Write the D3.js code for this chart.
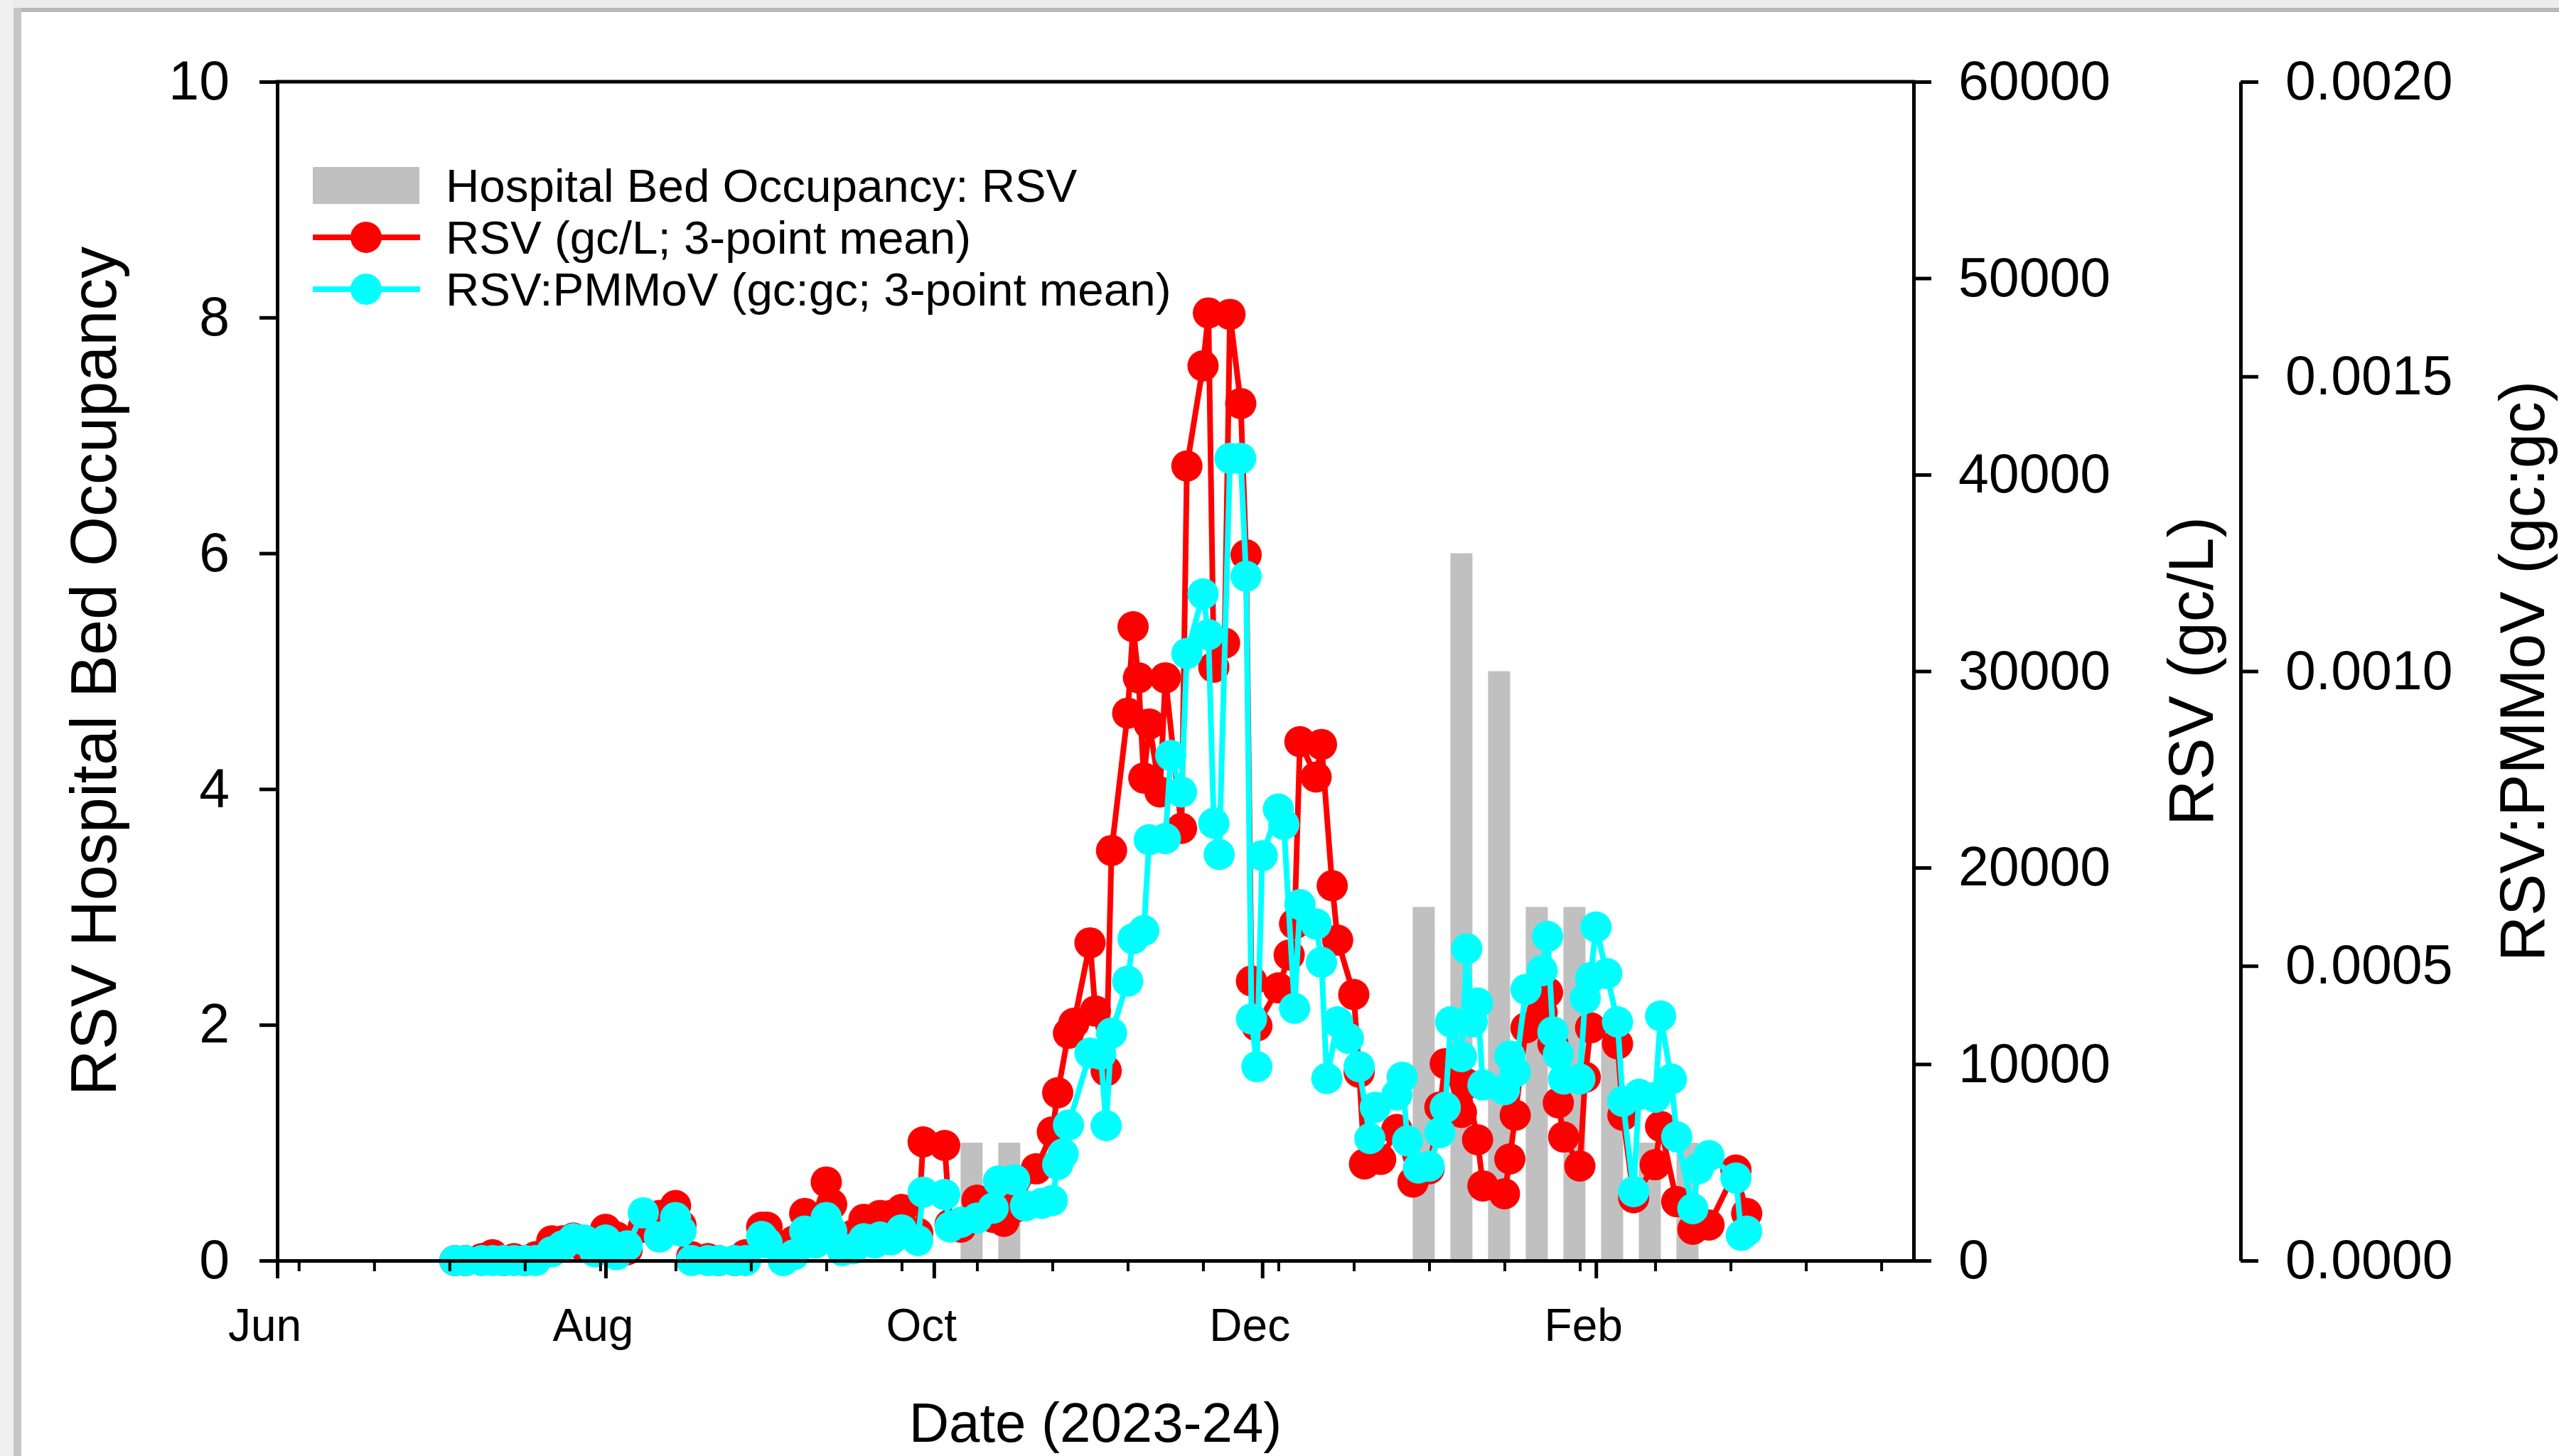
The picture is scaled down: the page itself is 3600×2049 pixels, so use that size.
<!DOCTYPE html>
<html>
<head>
<meta charset="utf-8">
<script src="https://cdn.jsdelivr.net/npm/d3@7"></script>
<style>
html, body { margin: 0; padding: 0; background: #fff; }
svg { display: block; }
</style>
</head>
<body>
<div class="container"></div>
<script>
const wd = 3600
const ht = 2049

// weekly RSV hospital bed occupancy
const bedDates = ["2023-10-01","2023-10-08","2023-10-15","2023-10-22","2023-10-29","2023-11-05","2023-11-12","2023-11-19","2023-11-26","2023-12-03","2023-12-10","2023-12-17","2023-12-24","2023-12-31","2024-01-07","2024-01-14","2024-01-21","2024-01-28","2024-02-04","2024-02-11","2024-02-18","2024-02-25"]
const bedValues = [0,1,1,0,0,0,0,0,0,0,0,0,0,3,6,5,3,3,2,1,1,0]

// RSV gc/L, 3-point mean
const rsvDates = ["2023-07-04","2023-07-06","2023-07-09","2023-07-11","2023-07-13","2023-07-15","2023-07-17","2023-07-19","2023-07-22","2023-07-24","2023-07-26","2023-07-28","2023-07-30","2023-08-01","2023-08-03","2023-08-05","2023-08-08","2023-08-11","2023-08-14","2023-08-15","2023-08-17","2023-08-20","2023-08-22","2023-08-25","2023-08-27","2023-08-30","2023-08-31","2023-09-03","2023-09-05","2023-09-07","2023-09-09","2023-09-11","2023-09-12","2023-09-14","2023-09-16","2023-09-18","2023-09-20","2023-09-21","2023-09-23","2023-09-25","2023-09-28","2023-09-29","2023-10-03","2023-10-04","2023-10-06","2023-10-09","2023-10-12","2023-10-14","2023-10-16","2023-10-20","2023-10-23","2023-10-24","2023-10-26","2023-10-27","2023-10-30","2023-10-31","2023-11-02","2023-11-03","2023-11-06","2023-11-07","2023-11-08","2023-11-09","2023-11-10","2023-11-12","2023-11-13","2023-11-16","2023-11-17","2023-11-20","2023-11-21","2023-11-22","2023-11-24","2023-11-25","2023-11-27","2023-11-28","2023-11-29","2023-11-30","2023-12-04","2023-12-06","2023-12-07","2023-12-08","2023-12-11","2023-12-12","2023-12-14","2023-12-15","2023-12-18","2023-12-19","2023-12-20","2023-12-23","2023-12-26","2023-12-29","2024-01-01","2024-01-03","2024-01-04","2024-01-07","2024-01-08","2024-01-10","2024-01-11","2024-01-15","2024-01-16","2024-01-17","2024-01-19","2024-01-22","2024-01-23","2024-01-24","2024-01-25","2024-01-26","2024-01-29","2024-01-30","2024-01-31","2024-02-05","2024-02-06","2024-02-08","2024-02-12","2024-02-13","2024-02-16","2024-02-19","2024-02-22","2024-02-27","2024-02-29"]
const rsvValues = [0,0,100,300,0,100,0,200,1000,1000,1150,700,900,1590,1200,550,1700,2300,2800,1800,200,100,0,0,300,1700,1700,300,1000,2400,1500,4000,2860,800,1300,2100,1800,2300,2300,2600,1400,6040,5860,1840,1700,3070,2200,2000,2700,4670,6550,8540,11570,12080,16170,12700,9660,20870,27860,32260,29660,24560,27310,23850,29660,22000,40440,45540,48230,30200,31430,48160,43620,35920,14230,11950,13880,15550,17140,26410,24610,26270,19080,16310,13540,9590,4920,5150,6670,4000,4670,7810,10020,7540,8990,6150,3800,3400,5170,7400,11850,12630,13650,11030,8030,6290,4810,9330,11850,11030,7400,3200,4880,6830,3000,1590,1810,4610,2400]

// RSV:PMMoV gc:gc, 3-point mean
const ratioDates = ["2023-07-04","2023-07-06","2023-07-09","2023-07-11","2023-07-13","2023-07-15","2023-07-17","2023-07-19","2023-07-22","2023-07-24","2023-07-26","2023-07-28","2023-07-30","2023-08-01","2023-08-03","2023-08-05","2023-08-08","2023-08-11","2023-08-14","2023-08-15","2023-08-17","2023-08-20","2023-08-22","2023-08-25","2023-08-27","2023-08-30","2023-08-31","2023-09-03","2023-09-05","2023-09-07","2023-09-09","2023-09-11","2023-09-12","2023-09-14","2023-09-16","2023-09-18","2023-09-20","2023-09-21","2023-09-23","2023-09-25","2023-09-28","2023-09-29","2023-10-03","2023-10-04","2023-10-06","2023-10-09","2023-10-12","2023-10-13","2023-10-16","2023-10-18","2023-10-21","2023-10-23","2023-10-24","2023-10-25","2023-10-26","2023-10-30","2023-11-01","2023-11-02","2023-11-03","2023-11-06","2023-11-07","2023-11-09","2023-11-10","2023-11-13","2023-11-14","2023-11-16","2023-11-17","2023-11-20","2023-11-21","2023-11-22","2023-11-23","2023-11-25","2023-11-27","2023-11-28","2023-11-29","2023-11-30","2023-12-01","2023-12-04","2023-12-05","2023-12-07","2023-12-08","2023-12-11","2023-12-12","2023-12-13","2023-12-15","2023-12-17","2023-12-19","2023-12-21","2023-12-22","2023-12-26","2023-12-27","2023-12-28","2023-12-30","2024-01-01","2024-01-03","2024-01-04","2024-01-05","2024-01-07","2024-01-08","2024-01-09","2024-01-10","2024-01-11","2024-01-15","2024-01-16","2024-01-17","2024-01-19","2024-01-22","2024-01-23","2024-01-24","2024-01-25","2024-01-26","2024-01-29","2024-01-30","2024-01-31","2024-02-01","2024-02-03","2024-02-05","2024-02-06","2024-02-08","2024-02-09","2024-02-12","2024-02-13","2024-02-15","2024-02-16","2024-02-19","2024-02-20","2024-02-22","2024-02-27","2024-02-28","2024-02-29"]
const ratioValues = [0,0,0,0,0,0,0,0,0.000015,0.000025,0.000037,0.000035,0.000015,0.000035,0.00001,0.000025,0.000081,0.00004,0.000073,0.00005,0,0,0,0,0,0.000041,0.00003,0,0.00001,0.00005,0.00003,0.000073,0.00005,0.000017,0.00002,0.000037,0.00003,0.00004,0.000035,0.000052,0.000034,0.000116,0.000112,0.000057,0.000065,0.000072,0.000089,0.000135,0.000137,0.000093,0.000097,0.000102,0.000163,0.000181,0.00023,0.000352,0.00035,0.000229,0.000386,0.000474,0.000546,0.00056,0.000714,0.000716,0.000857,0.000795,0.00103,0.001131,0.001062,0.000742,0.000689,0.001361,0.001361,0.001161,0.00041,0.000329,0.000687,0.000766,0.00074,0.000428,0.000604,0.000571,0.000506,0.000309,0.000405,0.000377,0.000329,0.000207,0.00026,0.000281,0.000311,0.000203,0.000157,0.00016,0.000217,0.00026,0.000405,0.000346,0.000529,0.000405,0.000437,0.000298,0.00029,0.000347,0.00032,0.00046,0.000492,0.00055,0.000388,0.00035,0.000308,0.000308,0.000445,0.00048,0.000566,0.000487,0.000405,0.00027,0.000117,0.000282,0.000277,0.000415,0.000308,0.00021,0.000088,0.000156,0.000178,0.00014,0.000043,0.00005]

// axis ticks and labels
const monthTicks = ["2023-06-01","2023-08-01","2023-10-01","2023-12-01","2024-02-01"]
const monthLabels = ["Jun","Aug","Oct","Dec","Feb"]
const bedTicks = [0,2,4,6,8,10]
const rsvTicks = [0,10000,20000,30000,40000,50000,60000]
const ratioTicks = [0,0.0005,0.001,0.0015,0.002]

const parse = d3.utcParse("%Y-%m-%d")
const fontFam = "'Liberation Sans', Arial, sans-serif"

const plotL = 390, plotR = 2692, plotT = 115, plotB = 1774
const ratioAxisX = 3152

const svg = d3.select(".container")
  .append("svg")
  .attr("width", wd)
  .attr("height", ht)
  .attr("viewBox", "0 0 " + wd + " " + ht)
  .style("font-family", fontFam)

// window frame edges
svg.append("rect").attr("x", 0).attr("y", 0).attr("width", wd).attr("height", 11).attr("fill", "#ececec")
svg.append("rect").attr("x", 0).attr("y", 11).attr("width", wd).attr("height", 6).attr("fill", "#b8b8b8")
svg.append("rect").attr("x", 0).attr("y", 0).attr("width", 19).attr("height", ht).attr("fill", "#f0f0f0")
svg.append("rect").attr("x", 19).attr("y", 11).attr("width", 11).attr("height", ht).attr("fill", "#c6c6c6")

const x = d3.scaleUtc()
  .domain([parse("2023-06-01"), parse("2024-03-31")])
  .range([plotL, plotR])

const yBed = d3.scaleLinear().domain([0, 10]).range([plotB, plotT])
const yRsv = d3.scaleLinear().domain([0, 60000]).range([plotB, plotT])
const yRatio = d3.scaleLinear().domain([0, 0.002]).range([plotB, plotT])

const bedData = bedDates.map((d, i) => ({date: parse(d), value: bedValues[i]}))
const rsvData = rsvDates.map((d, i) => ({date: parse(d), value: rsvValues[i]}))
const ratioData = ratioDates.map((d, i) => ({date: parse(d), value: ratioValues[i]}))

// bars
const halfBar = 2.05 * 86400000
svg.append("g").selectAll("rect")
  .data(bedData)
  .join("rect")
  .attr("x", d => x(new Date(+d.date - halfBar)))
  .attr("width", d => x(new Date(+d.date + halfBar)) - x(new Date(+d.date - halfBar)))
  .attr("y", d => yBed(d.value))
  .attr("height", d => plotB - yBed(d.value))
  .attr("fill", "#c0c0c0")

const lineRsv = d3.line().x(d => x(d.date)).y(d => yRsv(d.value))
const lineRatio = d3.line().x(d => x(d.date)).y(d => yRatio(d.value))

const rsvG = svg.append("g")
rsvG.append("path")
  .attr("d", lineRsv(rsvData))
  .attr("fill", "none")
  .attr("stroke", "#ff0000")
  .attr("stroke-width", 8)
  .attr("stroke-linejoin", "round")
rsvG.selectAll("circle")
  .data(rsvData)
  .join("circle")
  .attr("cx", d => x(d.date))
  .attr("cy", d => yRsv(d.value))
  .attr("r", 22)
  .attr("fill", "#ff0000")

const ratioG = svg.append("g")
ratioG.append("path")
  .attr("d", lineRatio(ratioData))
  .attr("fill", "none")
  .attr("stroke", "#00ffff")
  .attr("stroke-width", 8)
  .attr("stroke-linejoin", "round")
ratioG.selectAll("circle")
  .data(ratioData)
  .join("circle")
  .attr("cx", d => x(d.date))
  .attr("cy", d => yRatio(d.value))
  .attr("r", 22)
  .attr("fill", "#00ffff")

function styleAxis(g, size) {
  g.attr("font-family", fontFam).attr("font-size", size)
  g.selectAll("line").attr("stroke", "#000").attr("stroke-width", 5)
  g.selectAll("path").attr("stroke", "#000").attr("stroke-width", 5)
  g.selectAll("text").attr("fill", "#000")
}

// top frame line
svg.append("line")
  .attr("x1", plotL - 2.5).attr("x2", plotR + 2.5)
  .attr("y1", plotT).attr("y2", plotT)
  .attr("stroke", "#000").attr("stroke-width", 5)

// x axis: minor biweekly ticks, major month ticks
const minorTicks = d3.utcDay.range(parse("2023-06-05"), parse("2024-03-31"), 14)
svg.append("g")
  .attr("transform", "translate(0," + plotB + ")")
  .call(d3.axisBottom(x).tickValues(minorTicks).tickSize(15).tickSizeOuter(0).tickFormat(""))
  .call(g => styleAxis(g, 64))
  .call(g => g.select(".domain").remove())
  .call(g => g.selectAll("line").attr("stroke-width", 4))

svg.append("g")
  .attr("transform", "translate(0," + plotB + ")")
  .call(d3.axisBottom(x).tickValues(monthTicks.map(parse)).tickSize(25).tickSizeOuter(0).tickPadding(43)
    .tickFormat((d, i) => monthLabels[i]))
  .call(g => styleAxis(g, 64))
  .call(g => g.selectAll("text").attr("dx", -18))

// left axis
svg.append("g")
  .attr("transform", "translate(" + plotL + ",0)")
  .call(d3.axisLeft(yBed).tickValues(bedTicks).tickSize(25).tickSizeOuter(0).tickPadding(42))
  .call(g => styleAxis(g, 77))

// right axis: RSV gc/L
svg.append("g")
  .attr("transform", "translate(" + plotR + ",0)")
  .call(d3.axisRight(yRsv).tickValues(rsvTicks).tickSize(25).tickSizeOuter(0).tickPadding(38).tickFormat(d3.format("d")))
  .call(g => styleAxis(g, 77))

// offset axis: RSV:PMMoV
svg.append("g")
  .attr("transform", "translate(" + ratioAxisX + ",0)")
  .call(d3.axisRight(yRatio).tickValues(ratioTicks).tickSize(25).tickSizeOuter(0).tickPadding(38).tickFormat(d3.format(".4f")))
  .call(g => styleAxis(g, 77))

// axis titles
svg.append("text")
  .attr("transform", "translate(163," + (plotT + plotB) / 2 + ") rotate(-90)")
  .attr("text-anchor", "middle")
  .attr("font-size", 90)
  .text("RSV Hospital Bed Occupancy")

svg.append("text")
  .attr("transform", "translate(3113," + (plotT + plotB) / 2 + ") rotate(-90)")
  .attr("text-anchor", "middle")
  .attr("font-size", 89)
  .text("RSV (gc/L)")

svg.append("text")
  .attr("transform", "translate(3579," + (plotT + plotB) / 2 + ") rotate(-90)")
  .attr("text-anchor", "middle")
  .attr("font-size", 89)
  .text("RSV:PMMoV (gc:gc)")

svg.append("text")
  .attr("x", (plotL + plotR) / 2)
  .attr("y", 2029)
  .attr("text-anchor", "middle")
  .attr("font-size", 78)
  .text("Date (2023-24)")

// legend
const legendItems = ["Hospital Bed Occupancy: RSV", "RSV (gc/L; 3-point mean)", "RSV:PMMoV (gc:gc; 3-point mean)"]
const legendColors = ["#c0c0c0", "#ff0000", "#00ffff"]
const legend = svg.append("g")
legendItems.forEach((label, i) => {
  const cy = 261 + i * 73
  if (i === 0) {
    legend.append("rect").attr("x", 440).attr("y", cy - 26).attr("width", 150).attr("height", 52).attr("fill", legendColors[i])
  } else {
    legend.append("line").attr("x1", 440).attr("x2", 591).attr("y1", cy).attr("y2", cy)
      .attr("stroke", legendColors[i]).attr("stroke-width", 8)
    legend.append("circle").attr("cx", 515).attr("cy", cy).attr("r", 22).attr("fill", legendColors[i])
  }
  legend.append("text").attr("x", 627).attr("y", cy + 23).attr("font-size", 65.5).text(label)
})
</script>
</body>
</html>
